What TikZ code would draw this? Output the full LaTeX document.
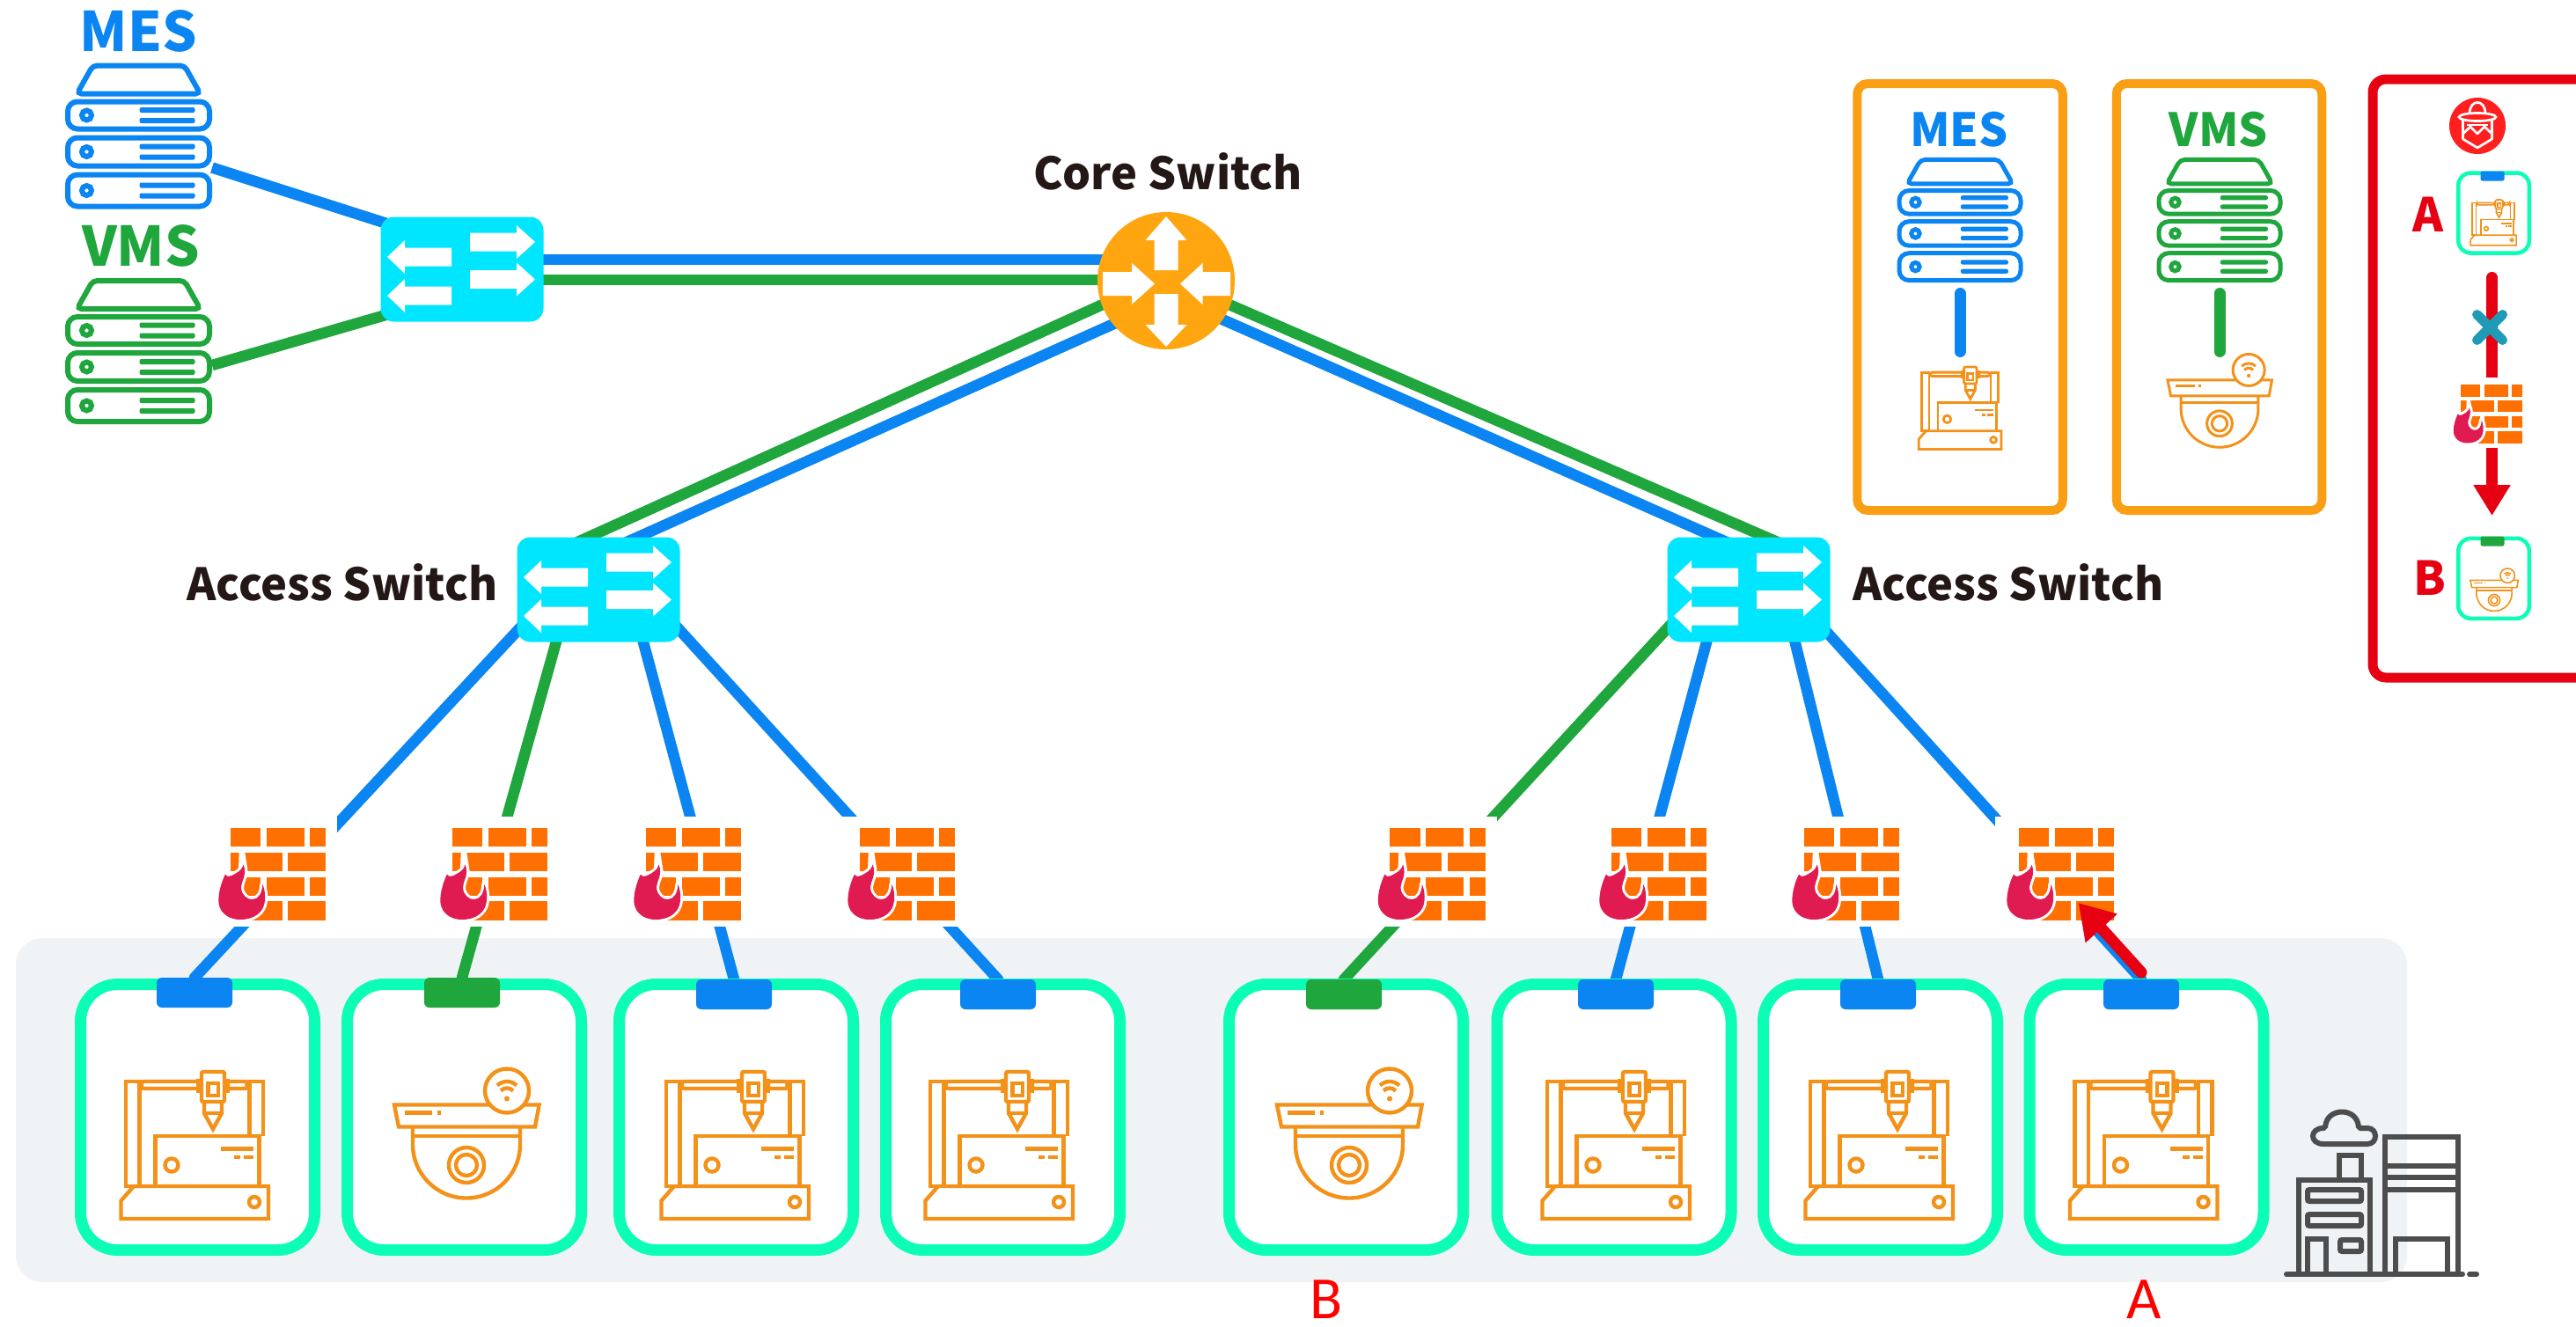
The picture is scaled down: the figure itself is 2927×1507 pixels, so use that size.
\documentclass[tikz,border=0pt]{standalone}
\usepackage{fontspec}
\usepackage{xcolor}
\usetikzlibrary{arrows.meta,shapes.misc}
\pgfdeclarelayer{floorlayer}
\pgfdeclarelayer{linklayer}
\pgfsetlayers{floorlayer,linklayer,main}
\newfontfamily\hanfont{Noto Sans CJK SC}
\newfontfamily\carlitofont{Carlito}
\definecolor{mesblue}{HTML}{0A85F2}
\definecolor{vmsgreen}{HTML}{1FA63C}
\definecolor{swcyan}{HTML}{00E6FF}
\definecolor{corecol}{HTML}{FFA510}
\definecolor{boxcol}{HTML}{FA9E14}
\definecolor{devmint}{HTML}{0CFDB6}
\definecolor{floorgray}{HTML}{F0F3F6}
\definecolor{brick}{HTML}{FF7000}
\definecolor{flame}{HTML}{E01B52}
\definecolor{iconorange}{HTML}{F39119}
\definecolor{alertred}{HTML}{E60012}
\definecolor{hackerred}{HTML}{FF1F1F}
\definecolor{crosscol}{HTML}{1F9BB5}
\definecolor{factorygray}{HTML}{4D4D4D}
\definecolor{textblack}{HTML}{231815}
\tikzset{
pics/serverstack/.style={code={
\draw[rounded corners=5pt] (-70,-48) -- (-52,-80) -- (52,-80) -- (70,-48) -- cycle;
\draw[rounded corners=11pt] (-80.5,-39) rectangle (80.5,-8);
\draw[rounded corners=11pt] (-80.5,2) rectangle (80.5,34);
\draw[rounded corners=11pt] (-80.5,44) rectangle (80.5,80);
\draw (-59,-23.5) circle (5.5);
\draw (-59,18) circle (5.5);
\draw (-59,62) circle (5.5);
\fill[rounded corners=2pt] (1,-32.5) rectangle (64,-26.5);
\fill[rounded corners=2pt] (1,-20.5) rectangle (64,-14.5);
\fill[rounded corners=2pt] (1,9) rectangle (64,15);
\fill[rounded corners=2pt] (1,21) rectangle (64,27);
\fill[rounded corners=2pt] (1,53) rectangle (64,59);
\fill[rounded corners=2pt] (1,65) rectangle (64,71);
}},
pics/switcharrows/.style={code={
\fill[white] (9,-41.5) -- (62,-41.5) -- (62,-50) -- (83,-31) -- (62,-12) -- (62,-20.5) -- (9,-20.5) -- cycle;
\fill[white] (9,1) -- (62,1) -- (62,-7.5) -- (83,11.5) -- (62,30.5) -- (62,22) -- (9,22) -- cycle;
\fill[white] (-12,-24.5) -- (-65,-24.5) -- (-65,-33) -- (-85,-14) -- (-65,5) -- (-65,-3.5) -- (-12,-3.5) -- cycle;
\fill[white] (-12,19.5) -- (-65,19.5) -- (-65,11) -- (-85,30) -- (-65,49) -- (-65,40.5) -- (-12,40.5) -- cycle;
}},
pics/corearrows/.style={code={
\fill[white] (-13.5,-12) -- (-13.5,-46) -- (-23.5,-46) -- (0,-73) -- (23.5,-46) -- (13.5,-46) -- (13.5,-12) -- cycle;
\fill[white] (-13.5,15) -- (-13.5,50) -- (-23.5,50) -- (0,75) -- (23.5,50) -- (13.5,50) -- (13.5,15) -- cycle;
\fill[white] (-72,-10) -- (-39,-10) -- (-39,-20) -- (-13,3.5) -- (-39,27) -- (-39,17) -- (-72,17) -- cycle;
\fill[white] (73,-10) -- (41.5,-10) -- (41.5,-20) -- (16,3.5) -- (41.5,27) -- (41.5,17) -- (73,17) -- cycle;
}},
pics/firewall/.style={code={
\fill[brick] (-47.3,-49.5) rectangle (-13,-28.2);
\fill[brick] (-6.3,-49.5) rectangle (36.7,-28.2);
\fill[brick] (43.3,-49.5) rectangle (61,-28.2);
\fill[brick] (-47.3,-21.5) rectangle (11.7,-0.5);
\fill[brick] (18.3,-21.5) rectangle (61,-0.5);
\fill[brick] (-47.3,6.2) rectangle (-13,27.2);
\fill[brick] (-6.3,6.2) rectangle (36.7,27.2);
\fill[brick] (43.3,6.2) rectangle (61,27.2);
\fill[brick] (-47.3,33.8) rectangle (11.7,55.5);
\fill[brick] (18.3,33.8) rectangle (61,55.5);
\fill[white] (-37.3,-22) -- (-30.7,-22) -- (-27.3,0) -- (-38,-2) -- cycle;
\draw[white,line width=6pt,line join=round] (-36,54.5) .. controls (-52,54.5) and (-61,44) .. (-60.7,32.5) .. controls (-60.5,22) and (-57,11) .. (-53,3) .. controls (-51,6) and (-48,6) .. (-45.7,4.5) .. controls (-41,2) and (-34,-1) .. (-32.3,-8) .. controls (-30,-1) and (-31,3) .. (-32,7) .. controls (-34,12) and (-35,16) .. (-35,19) .. controls (-34,27) and (-28,32) .. (-21.7,31.5) .. controls (-15,31) and (-11,24) .. (-10.7,14.5) .. controls (-8,20) and (-7.5,27) .. (-8,33) .. controls (-9,46) and (-20,54.5) .. (-36,54.5) -- cycle;
\fill[flame] (-36,54.5) .. controls (-52,54.5) and (-61,44) .. (-60.7,32.5) .. controls (-60.5,22) and (-57,11) .. (-53,3) .. controls (-51,6) and (-48,6) .. (-45.7,4.5) .. controls (-41,2) and (-34,-1) .. (-32.3,-8) .. controls (-30,-1) and (-31,3) .. (-32,7) .. controls (-34,12) and (-35,16) .. (-35,19) .. controls (-34,27) and (-28,32) .. (-21.7,31.5) .. controls (-15,31) and (-11,24) .. (-10.7,14.5) .. controls (-8,20) and (-7.5,27) .. (-8,33) .. controls (-9,46) and (-20,54.5) .. (-36,54.5) -- cycle;
}},
pics/printer/.style={code={
\draw (-62.5,46) -- (-78,46) -- (-78,-73) -- (-62.5,-73) -- cycle;
\draw (62.5,-11) -- (62.5,-73) -- (78,-73) -- (78,-11);
\draw[rounded corners=2pt] (-60,-73) rectangle (4.5,-65);
\draw[rounded corners=2pt] (38,-73) rectangle (59.5,-65);
\draw[rounded corners=2pt] (8,-84) rectangle (34,-50);
\draw (4.5,-76) -- (4.5,-60);
\draw (38,-76) -- (38,-60);
\draw (15.6,-71) rectangle (26.8,-57);
\draw (11,-50) -- (11,-37) -- (21,-19) -- (31,-37) -- (31,-50);
\draw (11,-37) -- (31,-37);
\draw (-44.6,46) -- (-44.6,-11) -- (73.6,-11) -- (73.6,46);
\draw (-26,22) circle (7.5);
\draw (30,3.6) -- (67,3.6);
\draw (44.6,13) -- (52,13);
\draw (56,13) -- (67,13);
\draw (-69,46) -- (84,46) -- (84,83) -- (-83.5,83) -- (-83.5,62.5) -- cycle;
\draw (68,64) circle (6);
}},
pics/camera/.style={code={
\draw (-82,-32) -- (82.6,-32) -- (78,-7) -- (-77,-7) -- cycle;
\draw (-70,-23) -- (-39,-23);
\draw (-33,-23) -- (-29,-23);
\draw (-61,-7) -- (-61,13) arc[start angle=180,end angle=0,radius=61] -- (61,-7);
\draw (-61,3.5) -- (61,3.5);
\draw (0,36.5) circle (20);
\draw (0,36.5) circle (12);
\filldraw[fill=white] (46,-48) circle (25);
\draw (35,-54) .. controls (41,-60) and (51,-60) .. (57,-54);
\draw (39,-48) .. controls (43,-52) and (49,-52) .. (53,-48);
\fill (46,-39) circle (3);
}},
pics/hackerface/.style={code={
\draw[white,line width=2.7pt,line join=round] (-9,-13.5) .. controls (-9,-31) and (9,-31) .. (9,-13.5);
\draw[white,line width=2.7pt] (0,-10) ellipse (21 and 4.5);
\draw[white,line width=2.7pt,line join=round] (-16.5,-6) -- (-16.5,15) -- (0,25) -- (16.5,15) -- (16.5,-6);
\draw[white,line width=2.7pt,line join=round] (-16.5,9) -- (-8,1) -- (0,9) -- (8,1) -- (16.5,9);
\draw[white,line width=2.7pt] (-12,-1) -- (12,-1);
}},
pics/factory/.style={code={
\draw[line cap=round] (-108,0) -- (92,0);
\draw[line cap=round] (100,0) -- (108,0);
\draw (4,0) -- (4,-156) -- (87,-156) -- (87,0);
\draw (4,-123) -- (87,-123);
\draw (4,-110.5) -- (87,-110.5);
\draw (4,-96) -- (87,-96);
\draw (16,0) -- (16,-40) -- (75,-40) -- (75,0);
\draw (-94,0) -- (-94,-107) -- (-13,-107) -- (-13,0);
\draw (-48,-107) -- (-48,-135) -- (-23,-135) -- (-23,-107);
\draw[rounded corners=2pt] (-64,-148) .. controls (-82,-148) and (-82,-166) .. (-64,-166) .. controls (-62,-190) and (-28,-190) .. (-26,-166) -- (-18,-166) .. controls (-4,-166) and (-4,-148) .. (-18,-148) -- cycle;
\draw[rounded corners=2pt] (-84,-96) rectangle (-23,-83);
\draw[rounded corners=2pt] (-84,-68) rectangle (-23,-55);
\draw (-84,0) -- (-84,-40) -- (-63,-40) -- (-63,0);
\draw[rounded corners=2pt] (-47,-39) rectangle (-23,-26);
}}
}
\begin{document}
\begin{tikzpicture}[x=1pt,y=-1pt]
\useasboundingbox (0,0) rectangle (2927,1507);
\clip (0,0) rectangle (2927,1507);
%%%%%%%%%%%%%%%%%%%%%%%%%%%%%%%%%%%%%%%%%%%%%%%%%%%%%%%%%%%%%%
%vars
\tikzstyle{sectionText}=[font=\hanfont\bfseries\fontsize{62}{62}\selectfont,anchor=base,inner sep=0pt]
\tikzstyle{sectionTextS}=[font=\hanfont\bfseries\fontsize{52}{52}\selectfont,anchor=base,inner sep=0pt]
\tikzstyle{nameText}=[font=\hanfont\bfseries\fontsize{50.5}{50.5}\selectfont,anchor=base,inner sep=0pt,text=textblack]
\tikzstyle{letterText}=[font=\hanfont\bfseries\fontsize{53}{53}\selectfont,anchor=base,inner sep=0pt,text=alertred]
\tikzstyle{tagText}=[font=\carlitofont\fontsize{68}{68}\selectfont,anchor=base,inner sep=0pt,text=red]
\tikzstyle{switchbox}=[fill=swcyan,rounded corners=15pt,minimum width=185pt,minimum height=119pt,inner sep=0pt,outer sep=0pt]
\tikzstyle{corebox}=[circle,fill=corecol,minimum size=156pt,inner sep=0pt,outer sep=0pt]
\tikzstyle{iconbox}=[inner sep=0pt,outer sep=0pt]
\tikzstyle{wallbox}=[fill=white,inner sep=0pt,outer sep=0pt,minimum width=148pt,minimum height=125pt]
\tikzstyle{devicebox}=[draw=devmint,fill=white,line width=13pt,rounded corners=42pt,minimum width=266pt,minimum height=302pt,inner sep=0pt]
\tikzstyle{minidevice}=[draw=devmint,fill=white,line width=4.5pt,rounded corners=14pt,minimum width=80.5pt,minimum height=91pt,inner sep=0pt]
\tikzstyle{porttab}=[rounded corners=6pt,minimum width=86pt,minimum height=34pt,inner sep=0pt,outer sep=0pt]
\tikzstyle{miniport}=[rounded corners=2pt,minimum width=27pt,minimum height=11pt,inner sep=0pt,outer sep=0pt]
\tikzstyle{framebox}=[draw=boxcol,line width=10pt,rounded corners=12pt,minimum width=233.5pt,minimum height=485pt,inner sep=0pt,outer sep=0pt]
\tikzstyle{bluelink}=[draw=mesblue,line width=12.5pt,line cap=round]
\tikzstyle{greenlink}=[draw=vmsgreen,line width=12.5pt,line cap=round]
\tikzstyle{redlink}=[draw=alertred,line width=13pt,line cap=round]

%%%%%%%%%%%%%%%%%%%%%%%%%%%%%%%%%%%%%%%%%%%%%%%%%%%%%%%%%%%%%%
%BACKGROUND
\begin{pgfonlayer}{floorlayer}
\node[fill=floorgray,rounded corners=30pt,minimum width=2717pt,minimum height=391pt,inner sep=0pt] (floor) at (1376.5,1261.5) {};
\end{pgfonlayer}
\pic[color=factorygray,line width=6pt] at (2706,1448) {factory};

%%%%%%%%%%%%%%%%%%%%%%%%%%%%%%%%%%%%%%%%%%%%%%%%%%%%%%%%%%%%%%
%vertex
%servers
\node[iconbox,minimum width=167pt,minimum height=165pt] (mesSrv) at (157.5,154.5) {};
\node[iconbox,minimum width=167pt,minimum height=165pt] (vmsSrv) at (157.5,399) {};
\pic[color=mesblue,line width=6pt] at (mesSrv) {serverstack};
\pic[color=vmsgreen,line width=6pt] at (vmsSrv) {serverstack};
%switches
\node[switchbox] (sw0) at (525,306) {};
\node[corebox] (core) at (1325,319) {};
\node[switchbox] (sw1) at (680,670) {};
\node[switchbox] (sw2) at (1987,670) {};
\pic at (sw0) {switcharrows};
\pic at (core) {corearrows};
\pic at (sw1) {switcharrows};
\pic at (sw2) {switcharrows};

%firewalls
\node[wallbox] (fw1) at (309,990.5) {};
\node[wallbox] (fw2) at (561,990.5) {};
\node[wallbox] (fw3) at (781,990.5) {};
\node[wallbox] (fw4) at (1024,990.5) {};
\node[wallbox] (fw5) at (1626.5,990.5) {};
\node[wallbox] (fw6) at (1878,990.5) {};
\node[wallbox] (fw7) at (2097,990.5) {};
\node[wallbox] (fw8) at (2341,990.5) {};
\pic at (fw1) {firewall};
\pic at (fw2) {firewall};
\pic at (fw3) {firewall};
\pic at (fw4) {firewall};
\pic at (fw5) {firewall};
\pic at (fw6) {firewall};
\pic at (fw7) {firewall};
\pic at (fw8) {firewall};

%devices
\node[devicebox] (dev1) at (224.5,1269.5) {};
\node[devicebox] (dev2) at (527.5,1269.5) {};
\node[devicebox] (dev3) at (836.5,1269.5) {};
\node[devicebox] (dev4) at (1139.5,1269.5) {};
\node[devicebox] (dev5) at (1529.5,1269.5) {};
\node[devicebox] (dev6) at (1834,1269.5) {};
\node[devicebox] (dev7) at (2136.5,1269.5) {};
\node[devicebox] (dev8) at (2439,1269.5) {};
%tabs
\node[porttab,fill=mesblue] (tab1) at (221,1128) {};
\node[porttab,fill=vmsgreen] (tab2) at (525,1128) {};
\node[porttab,fill=mesblue] (tab3) at (834,1130) {};
\node[porttab,fill=mesblue] (tab4) at (1134,1130) {};
\node[porttab,fill=vmsgreen] (tab5) at (1527,1130) {};
\node[porttab,fill=mesblue] (tab6) at (1836,1130) {};
\node[porttab,fill=mesblue] (tab7) at (2134,1130) {};
\node[porttab,fill=mesblue] (tab8) at (2433,1130) {};
%icons
\pic[color=iconorange,line width=4.4pt] at (221,1302) {printer};
\pic[color=iconorange,line width=4.4pt] at (530,1287.5) {camera};
\pic[color=iconorange,line width=4.4pt] at (835,1302) {printer};
\pic[color=iconorange,line width=4.4pt] at (1135,1302) {printer};
\pic[color=iconorange,line width=4.4pt] at (1533,1287.5) {camera};
\pic[color=iconorange,line width=4.4pt] at (1836,1302) {printer};
\pic[color=iconorange,line width=4.4pt] at (2135,1302) {printer};
\pic[color=iconorange,line width=4.4pt] at (2435.5,1302) {printer};

%link ends
\coordinate (mesOut) at (241,190.5);
\coordinate (vmsOut) at (241,415);
\coordinate (sw0a) at (452,258);
\coordinate (sw0b) at (452,354);
\coordinate (sw0c) at (600,295);
\coordinate (sw0d) at (600,318);
\coordinate (corea) at (1270,295);
\coordinate (coreb) at (1270,318);
\coordinate (corec) at (1275,336);
\coordinate (cored) at (1290,357);
\coordinate (coree) at (1378,338);
\coordinate (coref) at (1364,352);
\coordinate (sw1g) at (654,617);
\coordinate (sw1h) at (710,617);
\coordinate (sw2g) at (2022,617);
\coordinate (sw2h) at (1964,617);
\coordinate (sw1a) at (596,708);
\coordinate (sw1b) at (636,715);
\coordinate (sw1c) at (727,715);
\coordinate (sw1d) at (765,708);
\coordinate (sw2a) at (1900,708);
\coordinate (sw2b) at (1943,715);
\coordinate (sw2c) at (2036,715);
\coordinate (sw2d) at (2070,712);

%%%%%%%%%%%%%%%%%%%%%%%%%%%%%%%%%%%%%%%%%%%%%%%%%%%%%%%%%%%%%%
%LINKS
\begin{pgfonlayer}{linklayer}
%servers
\draw[bluelink,line cap=butt] (mesOut) -- (sw0a);
\draw[greenlink,line cap=butt] (vmsOut) -- (sw0b);
\draw[bluelink] (sw0c) -- (corea);
\draw[greenlink] (sw0d) -- (coreb);
%core
\draw[greenlink] (corec) -- (sw1g);
\draw[bluelink] (cored) -- (sw1h);
\draw[greenlink] (coree) -- (sw2g);
\draw[bluelink] (coref) -- (sw2h);
%access
\draw[bluelink] (sw1a) -- (tab1.north);
\draw[greenlink] (sw1b) -- (tab2.north);
\draw[bluelink] (sw1c) -- (tab3.north);
\draw[bluelink] (sw1d) -- (tab4.north);
\draw[greenlink] (sw2a) -- (tab5.north);
\draw[bluelink] (sw2b) -- (tab6.north);
\draw[bluelink] (sw2c) -- (tab7.north);
\draw[bluelink] (sw2d) -- (tab8.north);
\end{pgfonlayer}

%labels
\node[sectionText,text=mesblue] (mesLabel) at (157.5,58) {MES};
\node[sectionText,text=vmsgreen] (vmsLabel) at (160,302) {VMS};
\node[nameText] (coreLabel) at (1327,215) {Core Switch};
\node[nameText] (accessLeft) at (389,682) {Access Switch};
\node[nameText] (accessRight) at (2282,682) {Access Switch};
\node[tagText] (tagB) at (1507,1498) {B};
\node[tagText] (tagA) at (2436,1498) {A};

%%%%%%%%%%%%%%%%%%%%%%%%%%%%%%%%%%%%%%%%%%%%%%%%%%%%%%%%%%%%%%
%LEGEND
\node[framebox] (mesBox) at (2227,337.5) {};
\node[framebox] (vmsBox) at (2521.5,337.5) {};
\node[sectionTextS,text=mesblue] (mesLabel2) at (2226,166) {MES};
\node[sectionTextS,text=vmsgreen] (vmsLabel2) at (2521,166) {VMS};
\node[iconbox,minimum width=143pt,minimum height=142pt] (mesSrv2) at (2227,250) {};
\node[iconbox,minimum width=143pt,minimum height=142pt] (vmsSrv2) at (2522,250) {};
\pic[color=mesblue,scale=.857,line width=5pt] at (mesSrv2) {serverstack};
\pic[color=vmsgreen,scale=.857,line width=5pt] at (vmsSrv2) {serverstack};
\node[iconbox,minimum width=94pt,minimum height=96pt] (printer2) at (2227,464) {};
\node[iconbox,minimum width=119pt,minimum height=106pt] (camera2) at (2522,455) {};
\pic[color=iconorange,scale=.56,line width=2.8pt] at (printer2) {printer};
\pic[color=iconorange,scale=.72,line width=3pt] at (camera2) {camera};
\draw[bluelink,line width=13pt,shorten <=12.5pt,shorten >=16.5pt] (mesSrv2.south) -- (printer2.north);
\draw[greenlink,line width=13pt,shorten <=12.5pt,shorten >=2.5pt] (vmsSrv2.south) -- (camera2.north);

%%%%%%%%%%%%%%%%%%%%%%%%%%%%%%%%%%%%%%%%%%%%%%%%%%%%%%%%%%%%%%
%ATTACK
\node[draw=alertred,line width=11pt,rounded corners=15pt,minimum width=264pt,minimum height=680pt,inner sep=0pt] (attackBox) at (2828,430) {};
\node[circle,fill=hackerred,minimum size=64pt,inner sep=0pt] (hacker) at (2815,143) {};
\pic at (hacker) {hackerface};
\node[minidevice] (devA) at (2833.5,242) {};
\node[miniport,fill=mesblue] (portA) at (2832,200) {};
\pic[color=iconorange,scale=.31,line width=1.6pt] at (2833,253) {printer};
\node[letterText] (letterA) at (2759,263) {A};
\node[minidevice] (devB) at (2833.5,657.3) {};
\node[miniport,fill=vmsgreen] (portB) at (2832,615) {};
\pic[color=iconorange,scale=.33,line width=1.6pt] at (2834,670) {camera};
\node[letterText] (letterB) at (2761,676) {B};
\node[wallbox,fill=none,scale=.64] (fwMini) at (2826.6,468.6) {};
\pic[scale=.64] at (fwMini) {firewall};
\coordinate (attackTop) at (2831.5,315.5);
\coordinate (attackTip) at (2831.5,586);
\coordinate (hitTail) at (2433,1105);
\coordinate (hitTip) at (2361.6,1026);
\draw[redlink,line cap=butt] (attackTop) -- (attackTop |- fwMini.north);
\fill[alertred] (attackTop) circle (6.5);
\draw[redlink,line cap=butt,-{Triangle[length=35pt,width=40pt]}] (attackTip |- fwMini.south) -- (attackTip);
\node[shape=cross out,draw=crosscol,line width=11pt,line cap=round,minimum size=29pt,inner sep=0pt,outer sep=0pt] (blockMark) at (2829,372) {};
%hit
\draw[redlink,-{Triangle[length=39pt,width=46pt]}] (hitTail) -- (hitTip);
\end{tikzpicture}
\end{document}
